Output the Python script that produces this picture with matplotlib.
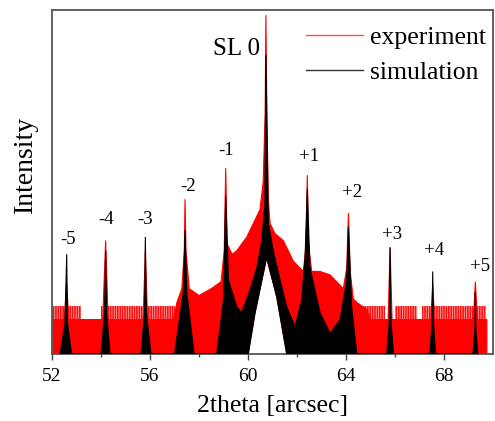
import numpy as np
import matplotlib
matplotlib.use("Agg")
import matplotlib.pyplot as plt
from matplotlib.lines import Line2D

plt.rcParams['font.family'] = ['Liberation Serif', 'DejaVu Serif']
plt.rcParams['hatch.linewidth'] = 1.2

# --- Daten ---
# Experiment: obere Kontur der roten Flaeche (2theta, Intensitaet)
exp_x = [52.0, 52.50, 52.60, 52.68, 54.07, 54.19, 54.29, 55.72, 55.81, 55.90,
         56.95, 57.10, 57.30, 57.40, 57.43, 57.47, 57.60, 58.00, 58.50, 58.90,
         59.03, 59.09, 59.15, 59.35, 59.54, 59.95, 60.22, 60.49, 60.62, 60.70,
         60.73, 60.77, 60.83, 60.90, 61.10, 61.44, 61.85, 62.26, 62.37, 62.42,
         62.47, 62.60, 62.94, 63.35, 63.62, 63.89, 64.03, 64.10, 64.17, 64.30,
         64.44, 64.84, 65.00, 65.72, 65.80, 65.88, 67.46, 67.54, 67.62, 69.20,
         69.28, 69.36, 69.75]
exp_y = [0.10, 0.10, 0.21, 0.10, 0.10, 0.33, 0.10, 0.10, 0.30, 0.10,
         0.10, 0.15, 0.19, 0.30, 0.45, 0.30, 0.19, 0.17, 0.19, 0.21,
         0.30, 0.54, 0.32, 0.29, 0.30, 0.34, 0.38, 0.42, 0.50, 0.70,
         0.985, 0.70, 0.45, 0.38, 0.35, 0.33, 0.27, 0.24, 0.32, 0.52,
         0.32, 0.24, 0.24, 0.23, 0.21, 0.19, 0.25, 0.41, 0.24, 0.16,
         0.15, 0.13, 0.10, 0.10, 0.31, 0.10, 0.10, 0.20, 0.10, 0.10,
         0.21, 0.10, 0.10]

# Rauschbereiche oberhalb des Untergrunds (Start, Ende)
noise_start = [52.0, 54.0, 64.3, 66.0, 67.1]
noise_end = [53.2, 57.0, 65.6, 66.9, 69.7]
noise_lo = 0.10
noise_hi = 0.14

# Simulation: obere Kontur der schwarzen Flaeche
sim_x = [52.33, 52.53, 52.60, 52.63, 52.80, 54.00, 54.15, 54.19, 54.23, 54.37,
         55.63, 55.78, 55.81, 55.85, 56.04, 57.00, 57.36, 57.43, 57.50, 57.80,
         58.72, 59.00, 59.09, 59.20, 59.54, 59.74, 60.08, 60.36, 60.56, 60.69,
         60.73, 60.83, 61.03, 61.31, 61.58, 61.92, 62.19, 62.33, 62.42, 62.53,
         62.94, 63.35, 63.76, 64.03, 64.10, 64.23, 64.44, 65.66, 65.77, 65.80,
         65.83, 65.94, 67.42, 67.51, 67.54, 67.57, 67.66, 69.18, 69.26, 69.28,
         69.30, 69.38]
sim_y = [0.0, 0.09, 0.29, 0.09, 0.0, 0.0, 0.12, 0.30, 0.12, 0.0,
         0.0, 0.12, 0.34, 0.12, 0.0, 0.0, 0.18, 0.36, 0.18, 0.0,
         0.0, 0.157, 0.46, 0.215, 0.137, 0.12, 0.186, 0.25, 0.33, 0.43,
         0.87, 0.38, 0.30, 0.215, 0.137, 0.08, 0.157, 0.28, 0.48, 0.25,
         0.12, 0.06, 0.10, 0.215, 0.37, 0.137, 0.0, 0.0, 0.10, 0.31,
         0.10, 0.0, 0.0, 0.09, 0.24, 0.09, 0.0, 0.0, 0.07, 0.18,
         0.07, 0.0]

# Luecke unter dem SL-0-Reflex (untere Kontur)
gap_x = [60.01, 60.29, 60.76, 61.17, 61.58]
gap_y = [0.0, 0.12, 0.28, 0.167, 0.0]

# Beschriftung der Satellitenreflexe
peak_labels = ["-5", "-4", "-3", "-2", "-1", "SL 0", "+1", "+2", "+3", "+4", "+5"]
label_x = [52.67, 54.19, 55.81, 57.56, 59.10, 59.55, 62.50, 64.23, 65.90, 67.59, 69.47]
label_y = [0.333, 0.39, 0.39, 0.486, 0.593, 0.887, 0.574, 0.47, 0.346, 0.30, 0.254]


def closed_outline(top_x, top_y):
    """Obere Kontur + Grundlinie mit Luecke als geschlossenes Polygon."""
    bx = [top_x[-1]] + gap_x[::-1] + [top_x[0]]
    by = [0.0] + gap_y[::-1] + [0.0]
    return list(top_x) + bx, list(top_y) + by


fig = plt.figure(figsize=(4.95, 4.21), dpi=100)
ax = fig.add_axes([52 / 495, 1 - 354 / 421, 441 / 495, 344 / 421])

for s, e in zip(noise_start, noise_end):
    ax.fill_between([s, e], noise_lo, noise_hi, facecolor="#ffb4b4",
                    edgecolor="#ff1010", hatch="|||||||", lw=0, zorder=1)

px, py = closed_outline(exp_x, exp_y)
ax.fill(px, py, facecolor="red", edgecolor="red", lw=0.8, zorder=2)

px, py = closed_outline(sim_x, sim_y)
ax.fill(px, py, facecolor="black", edgecolor="black", lw=0.8, zorder=3)

for lab, x, y in zip(peak_labels, label_x, label_y):
    fs = 18 if lab.startswith("SL") else 13.5
    ax.text(x, y, lab, ha="center", va="center", fontsize=fs, zorder=5)

ax.set_xlim(52, 70)
ax.set_ylim(0, 1)
ax.set_xticks([52, 56, 60, 64, 68])
ax.set_xticks([54, 58, 62, 66], minor=True)
ax.set_yticks([])
ax.tick_params(axis="x", which="major", direction="out", length=4, width=1,
               color="#444444", labelsize=14, pad=6)
ax.tick_params(axis="x", which="minor", direction="out", length=2.5, width=1,
               color="#444444")
for sp in ax.spines.values():
    sp.set_color("#555555")
    sp.set_linewidth(1.3)

ax.set_xlabel("2theta [arcsec]", fontsize=18.5, labelpad=7)
fig.text(25 / 495, 1 - 164 / 421, "Intensity", rotation=90, ha="center",
         va="center", fontsize=20)

handles = [Line2D([], [], color="#ff5050", lw=1.0),
           Line2D([], [], color="#333333", lw=1.0)]
ax.legend(handles, ["experiment", "simulation"], loc="upper right",
          bbox_to_anchor=(1.014, 0.99), frameon=False, fontsize=18.5,
          handlelength=2.2, handletextpad=0.3, labelspacing=0.45,
          borderaxespad=0.1)

fig.savefig("out.png", dpi=100)
